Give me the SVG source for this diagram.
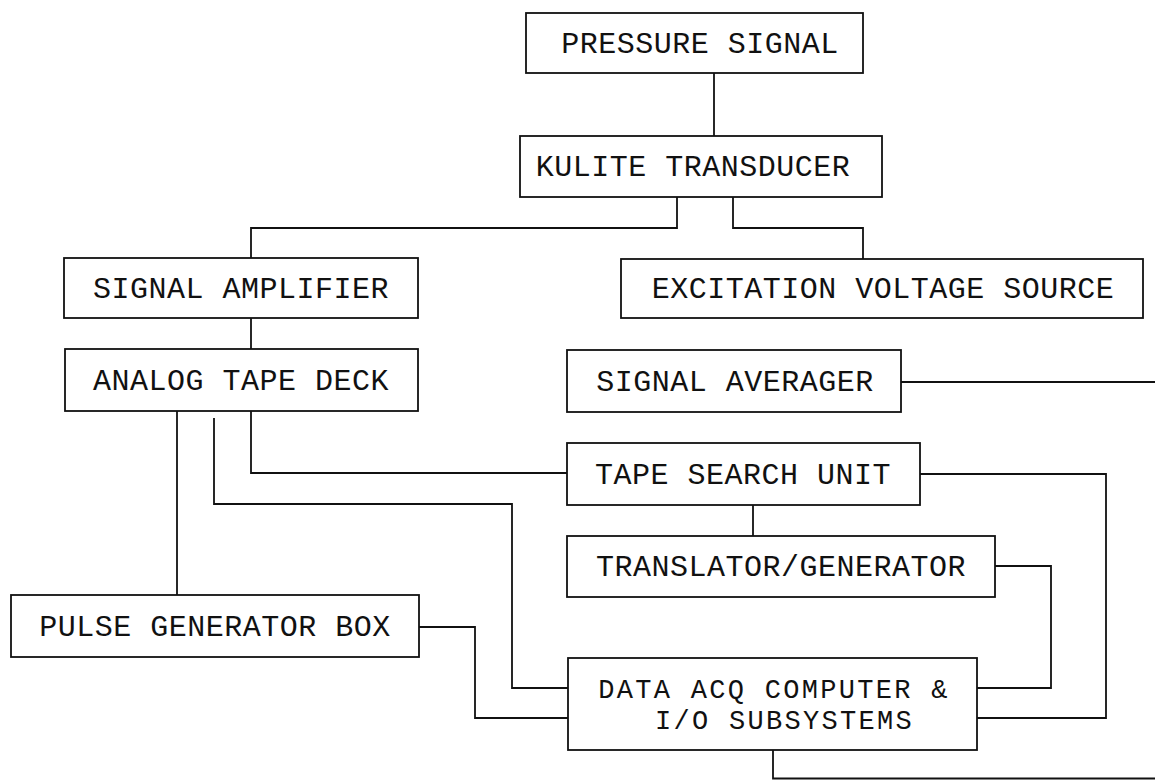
<svg xmlns="http://www.w3.org/2000/svg" width="1155" height="780" viewBox="0 0 1155 780">
<style>
.box{fill:#fff;stroke:#111;stroke-width:1.8}
.lbl{font-family:"Liberation Mono","DejaVu Sans Mono",monospace;font-size:30px;letter-spacing:0.5px;fill:#111;text-anchor:middle}
.sm{font-size:27px;letter-spacing:2.3px}
.st{text-anchor:start}
.wire{fill:none;stroke:#111;stroke-width:1.8}
</style>
<rect width="1155" height="780" fill="#fff"/>
<g id="connectors">
<path class="wire" d="M714 73V136"/>
<path class="wire" d="M677 197V228H251V258"/>
<path class="wire" d="M733 197V228H863V259"/>
<path class="wire" d="M251 318V349"/>
<path class="wire" d="M901 382H1155"/>
<path class="wire" d="M251 411V473H567"/>
<path class="wire" d="M214 418V504H512V688H568"/>
<path class="wire" d="M177 411V595"/>
<path class="wire" d="M419 627H475V718H568"/>
<path class="wire" d="M920 474H1106V718H977"/>
<path class="wire" d="M753 505V536"/>
<path class="wire" d="M995 566H1051V688H977"/>
<path class="wire" d="M773 750V778.5H1155"/>
</g>
<g id="pressure-signal"><rect class="box" x="526" y="13" width="337" height="60"/><text class="lbl" x="700" y="53">PRESSURE SIGNAL</text></g>
<g id="kulite-transducer"><rect class="box" x="520" y="136" width="362" height="61"/><text class="lbl" x="693" y="176">KULITE TRANSDUCER</text></g>
<g id="signal-amplifier"><rect class="box" x="64" y="258" width="354" height="60"/><text class="lbl" x="241" y="298">SIGNAL AMPLIFIER</text></g>
<g id="excitation-voltage-source"><rect class="box" x="621" y="259" width="522" height="59"/><text class="lbl" x="883" y="298">EXCITATION VOLTAGE SOURCE</text></g>
<g id="analog-tape-deck"><rect class="box" x="65" y="349" width="353" height="62"/><text class="lbl" x="241" y="390">ANALOG TAPE DECK</text></g>
<g id="signal-averager"><rect class="box" x="567" y="350" width="334" height="62"/><text class="lbl" x="735" y="391">SIGNAL AVERAGER</text></g>
<g id="tape-search-unit"><rect class="box" x="567" y="443" width="353" height="62"/><text class="lbl" x="743" y="484">TAPE SEARCH UNIT</text></g>
<g id="translator-generator"><rect class="box" x="567" y="536" width="428" height="61"/><text class="lbl" x="781" y="576">TRANSLATOR/GENERATOR</text></g>
<g id="pulse-generator-box"><rect class="box" x="11" y="595" width="408" height="62"/><text class="lbl" x="215" y="636">PULSE GENERATOR BOX</text></g>
<g id="data-acq-computer"><rect class="box" x="568" y="658" width="409" height="92"/><text class="lbl sm" x="774" y="698">DATA ACQ COMPUTER &amp;</text><text class="lbl sm st" x="655" y="729">I/O SUBSYSTEMS</text></g>
</svg>
